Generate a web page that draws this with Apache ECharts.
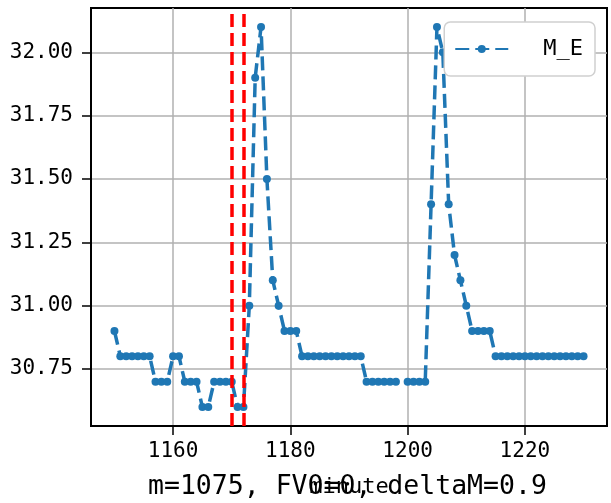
<!DOCTYPE html>
<html>
<head>
<meta charset="utf-8">
<script src="https://cdn.jsdelivr.net/npm/echarts@6/dist/echarts.min.js"></script>
<style>
html,body{margin:0;padding:0;background:#fff;}
#chart{width:611px;height:503px;}
</style>
</head>
<body>
<div id="chart"></div>
<script>
// minute -> M_E, 1199 missing in the source
var minutes = [1150,1151,1152,1153,1154,1155,1156,1157,1158,1159,
    1160,1161,1162,1163,1164,1165,1166,1167,1168,1169,
    1170,1171,1172,1173,1174,1175,1176,1177,1178,1179,
    1180,1181,1182,1183,1184,1185,1186,1187,1188,1189,
    1190,1191,1192,1193,1194,1195,1196,1197,1198,1199,
    1200,1201,1202,1203,1204,1205,1206,1207,1208,1209,
    1210,1211,1212,1213,1214,1215,1216,1217,1218,1219,
    1220,1221,1222,1223,1224,1225,1226,1227,1228,1229,1230];
var meValues = [30.9,30.8,30.8,30.8,30.8,30.8,30.8,30.7,30.7,30.7,
    30.8,30.8,30.7,30.7,30.7,30.6,30.6,30.7,30.7,30.7,
    30.7,30.6,30.6,31.0,31.9,32.1,31.5,31.1,31.0,30.9,
    30.9,30.9,30.8,30.8,30.8,30.8,30.8,30.8,30.8,30.8,
    30.8,30.8,30.8,30.7,30.7,30.7,30.7,30.7,30.7,null,
    30.7,30.7,30.7,30.7,31.4,32.1,32.0,31.4,31.2,31.1,
    31.0,30.9,30.9,30.9,30.9,30.8,30.8,30.8,30.8,30.8,
    30.8,30.8,30.8,30.8,30.8,30.8,30.8,30.8,30.8,30.8,30.8];
var markMinutes = [1170, 1172];
var xTicks = [1160, 1180, 1200, 1220];
var yTicks = [30.75, 31.0, 31.25, 31.5, 31.75, 32.0];
var titleText = 'm=1075, FV0=0, deltaM=0.9';

var FONT = '"DejaVu Sans Mono", monospace';
var seriesData = [];
for (var i = 0; i < minutes.length; i++) {
    seriesData.push([minutes[i], meValues[i]]);
}
var markData = [];
for (var k = 0; k < markMinutes.length; k++) {
    markData.push({xAxis: markMinutes[k]});
}

var myChart = echarts.init(document.getElementById('chart'), null, {renderer: 'canvas'});
var option = {
    animation: false,
    backgroundColor: '#fff',
    title: {
        text: titleText,
        left: 148,
        top: 474,
        padding: 0,
        textStyle: {fontFamily: FONT, fontSize: 26.5, fontWeight: 'normal', color: '#000'}
    },
    legend: {
        right: 16,
        top: 22,
        padding: [16, 12, 16, 10],
        itemWidth: 53,
        itemHeight: 10,
        backgroundColor: '#fff',
        borderColor: '#d0d0d0',
        borderWidth: 1.5,
        borderRadius: 6,
        textStyle: {fontFamily: FONT, fontSize: 22, color: '#000', padding: [0, 0, 0, 30]},
        data: ['M_E']
    },
    grid: {
        left: 91,
        right: 4,
        top: 8,
        bottom: 75,
        show: true,
        borderColor: '#000',
        borderWidth: 2,
        containLabel: false
    },
    xAxis: {
        type: 'value',
        min: 1146,
        max: 1234,
        name: 'minute',
        nameLocation: 'middle',
        nameGap: 50,
        nameTextStyle: {fontFamily: FONT, fontSize: 22, color: '#000'},
        axisLine: {show: true, lineStyle: {color: '#000', width: 2}},
        axisTick: {show: true, length: 9, customValues: xTicks, lineStyle: {color: '#000', width: 1.5}},
        axisLabel: {
            customValues: xTicks, margin: 15, fontFamily: FONT, fontSize: 21, color: '#000',
            formatter: function (v) { return String(v); }
        },
        splitLine: {show: true, lineStyle: {color: '#b0b0b0', width: 1.5}}
    },
    yAxis: {
        type: 'value',
        min: 30.525,
        max: 32.175,
        axisLine: {show: true, lineStyle: {color: '#000', width: 2}},
        axisTick: {show: true, length: 9, customValues: yTicks, lineStyle: {color: '#000', width: 1.5}},
        axisLabel: {
            customValues: yTicks, margin: 18, fontFamily: FONT, fontSize: 21, color: '#000',
            formatter: function (v) { return v.toFixed(2); }
        },
        splitLine: {show: true, lineStyle: {color: '#b0b0b0', width: 1.5}}
    },
    series: [
        {
            name: 'M_E',
            type: 'line',
            data: seriesData,
            connectNulls: false,
            showSymbol: true,
            symbol: 'circle',
            symbolSize: 8,
            color: '#1f77b4',
            lineStyle: {color: '#1f77b4', width: 3.5, type: [14, 6]},
            itemStyle: {color: '#1f77b4'},
            markLine: {
                silent: true,
                symbol: ['none', 'none'],
                label: {show: false},
                lineStyle: {color: '#ff0000', width: 3.5, type: [13, 6]},
                data: markData
            }
        }
    ]
};
myChart.setOption(option);
</script>
</body>
</html>
